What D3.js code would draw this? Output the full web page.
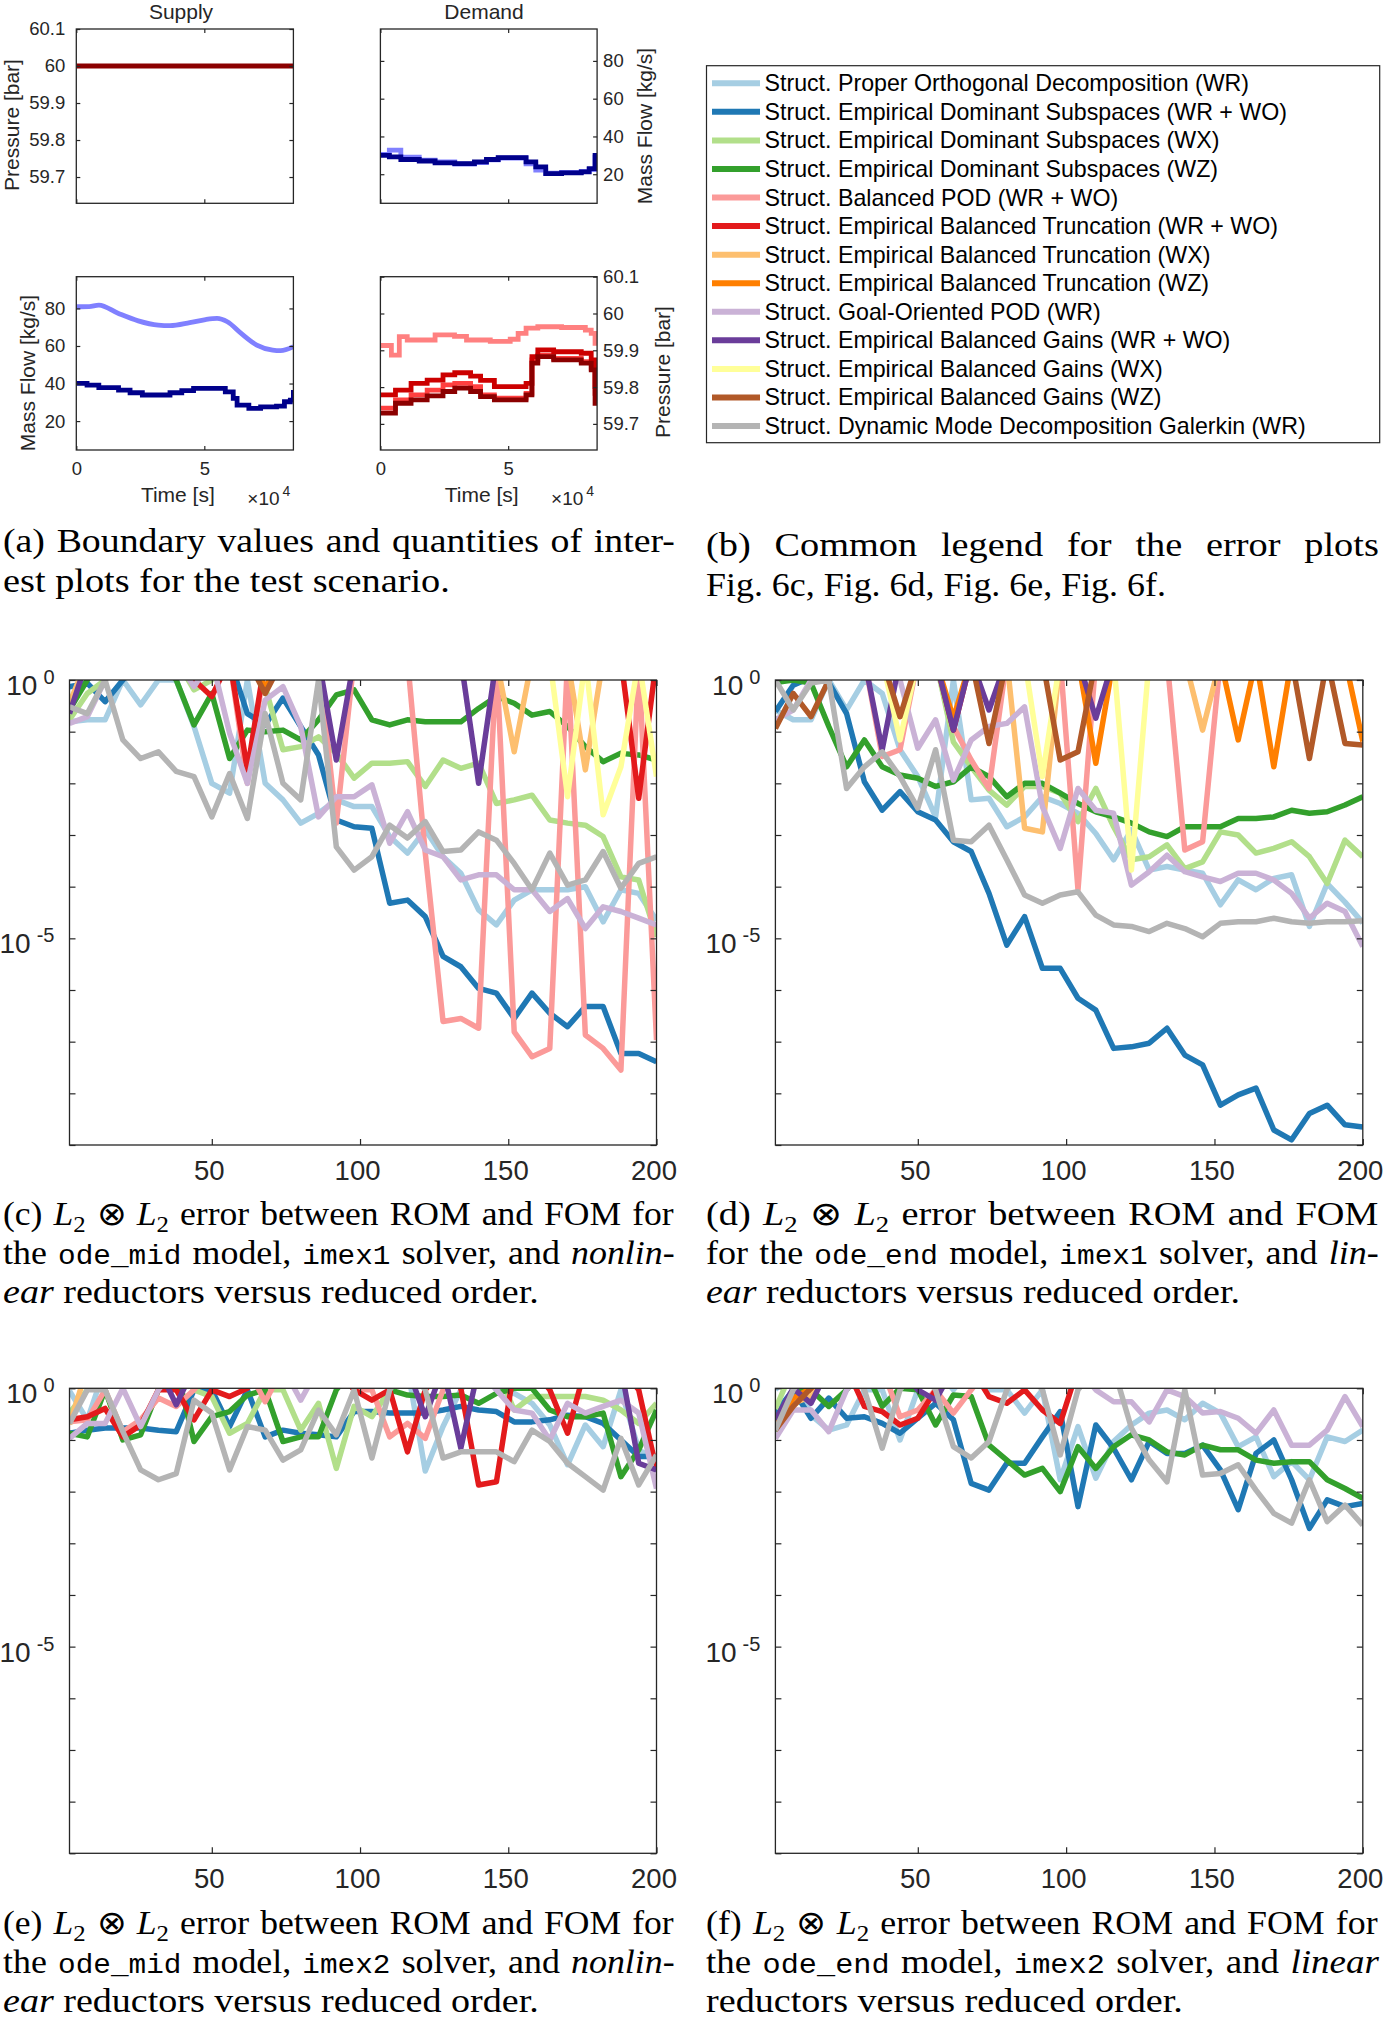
<!DOCTYPE html>
<html>
<head>
<meta charset="utf-8">
<script src="https://cdn.jsdelivr.net/npm/d3@7"></script>
<style>
  body { margin: 0; background: #fff; }
  svg { display: block; }
</style>
</head>
<body>
<script>
// ---------- data : top panels (time in units of 1e4 s) ----------
var tEnd = 8.48;
var timeTicks = [0, 5];
var pressTicks = [59.7, 59.8, 59.9, 60, 60.1];
var flowTicks = [20, 40, 60, 80];

var supPressT = [0, 8.48];
var supPress = [60, 60];

var supFlowAT = [0, 0.5, 0.88, 1.65, 2.42, 3.2, 3.66, 4.43, 5.05, 5.5, 5.9, 6.44, 7.05, 7.67, 7.98, 8.48];
var supFlowA = [80.9, 81.0, 81.8, 77.3, 73.4, 71.1, 70.8, 72.4, 74.1, 74.7, 72.9, 66.7, 60.5, 57.8, 57.5, 59.6];
var supFlowBT = [0, 0.42, 0.88, 1.65, 2.1, 2.58, 3.2, 3.66, 4.12, 4.58, 5.43, 5.82, 6.13, 6.28, 6.74, 7.2, 7.82, 8.13, 8.36, 8.48];
var supFlowB = [40.1, 39.2, 37.8, 36.5, 35.1, 33.9, 33.9, 35.1, 36.2, 37.4, 37.4, 35.6, 32.1, 28.5, 26.8, 27.6, 28.0, 30.3, 31.2, 36.5];

var demFlowT = [0, 0.35, 0.8, 1.52, 2.14, 2.91, 3.68, 4.15, 4.61, 5.39, 5.7, 6.08, 6.47, 7.09, 7.86, 8.17, 8.4, 8.48];
var demFlowA = [30.5, 32.8, 29.0, 27.5, 26.5, 25.4, 26.2, 27.6, 28.6, 28.6, 25.5, 22.2, 20.5, 20.9, 21.5, 22.5, 29.0, 29.0];
var demFlowB = [30.0, 29.2, 27.8, 27.0, 26.0, 25.6, 26.5, 27.8, 28.8, 28.8, 26.5, 23.9, 20.3, 20.7, 21.2, 23.0, 30.0, 30.0];

var demPressAT = [0, 0.43, 0.74, 1.05, 2.14, 2.9, 3.37, 4.3, 5.08, 5.39, 5.7, 6.16, 7.09, 8.02, 8.25, 8.4, 8.48];
var demPressA = [59.913, 59.887, 59.937, 59.928, 59.942, 59.938, 59.928, 59.924, 59.930, 59.946, 59.960, 59.964, 59.962, 59.955, 59.946, 59.919, 59.919];
var demPressT = [0, 0.59, 1.2, 1.83, 2.45, 2.91, 3.53, 3.92, 4.46, 5.39, 5.7, 5.93, 6.16, 6.78, 7.86, 8.25, 8.4, 8.48];
var demPressB = [59.779, 59.792, 59.810, 59.819, 59.833, 59.839, 59.830, 59.818, 59.801, 59.801, 59.810, 59.883, 59.901, 59.896, 59.892, 59.874, 59.801, 59.801];
var demPressC = [59.743, 59.765, 59.779, 59.792, 59.806, 59.810, 59.801, 59.779, 59.770, 59.770, 59.783, 59.874, 59.887, 59.878, 59.869, 59.851, 59.783, 59.783];
var demPressD = [59.729, 59.756, 59.765, 59.776, 59.788, 59.797, 59.788, 59.774, 59.765, 59.765, 59.779, 59.865, 59.883, 59.874, 59.865, 59.847, 59.756, 59.756];

// ---------- data : error plots ----------
var methods = [
  "Struct. Proper Orthogonal Decomposition (WR)",
  "Struct. Empirical Dominant Subspaces (WR + WO)",
  "Struct. Empirical Dominant Subspaces (WX)",
  "Struct. Empirical Dominant Subspaces (WZ)",
  "Struct. Balanced POD (WR + WO)",
  "Struct. Empirical Balanced Truncation (WR + WO)",
  "Struct. Empirical Balanced Truncation (WX)",
  "Struct. Empirical Balanced Truncation (WZ)",
  "Struct. Goal-Oriented POD (WR)",
  "Struct. Empirical Balanced Gains (WR + WO)",
  "Struct. Empirical Balanced Gains (WX)",
  "Struct. Empirical Balanced Gains (WZ)",
  "Struct. Dynamic Mode Decomposition Galerkin (WR)"
];
var palette = ["#a6cee3", "#1f78b4", "#b2df8a", "#33a02c", "#fb9a99", "#e31a1c", "#fdbf6f",
               "#ff7f00", "#cab2d6", "#6a3d9a", "#ffff99", "#b15928", "#b4b4b4"];

var orders = [2, 8, 14, 20, 26, 32, 38, 44, 50, 56, 62, 68, 74, 80, 86, 92, 98, 104, 110, 116,
              122, 128, 134, 140, 146, 152, 158, 164, 170, 176, 182, 188, 194, 200];
var errTicks = [1e-9, 1e-8, 1e-7, 1e-6, 1e-5, 1e-4, 1e-3, 1e-2, 1e-1, 1];
var errLabels = [1, 1e-5];
var orderTicks = [50, 100, 150, 200];

// values are log10 of the error; X marks an error above 10^0 (off the axes)
var X = 0.4;

// (c) ode_mid, imex1, nonlinear
var errC = [
  [-0.81, -0.77, -0.77, 0, -0.48, 0, 0, -0.90, -2.0, -2.19, 0, -2.0, -2.32, -2.77, -2.58, -2.32, -2.45, -2.45, -3.03, -3.35, -2.90, -3.42, -3.74, -4.45, -4.74, -4.26, -4.06, -4.06, -4.06, -4.0, -4.68, -4.06, -4.13, -4.65],
  [-0.13, -0.06, -0.42, 0, X, X, X, X, X, X, -0.65, -0.87, -0.35, -0.90, -1.45, -2.71, -2.84, -2.87, -4.32, -4.26, -4.58, -5.35, -5.55, -5.97, -6.06, -6.55, -6.06, -6.45, -6.71, -6.32, -6.32, -7.23, -7.23, -7.39],
  [-0.77, -0.26, 0, X, X, X, X, -0.19, 0, X, X, -0.13, -1.35, -1.29, -1.10, -1.42, -1.90, -1.61, -1.61, -1.58, -2.06, -1.55, -1.71, -1.61, -2.39, -2.32, -2.23, -2.71, -2.77, -2.81, -3.03, -3.81, -3.87, -4.97],
  [-0.58, 0, X, X, X, X, 0, -0.87, -0.26, -1.52, -0.97, -1.0, -0.97, -1.16, -0.77, -0.29, -0.19, -0.77, -0.87, -0.77, -0.81, -0.81, -0.81, -0.55, -0.32, -0.45, -0.68, -0.61, -0.90, -1.29, -1.58, -1.42, -1.45, -1.55],
  [X, X, X, X, X, X, X, X, X, X, -2.0, X, X, X, X, -2.77, X, X, X, X, -3.35, -6.61, -6.55, -6.74, X, -6.81, -7.29, -7.13, X, -6.87, -7.13, -7.55, X, -6.97],
  [X, X, X, X, X, X, X, 0, -0.32, X, -1.74, X, X, X, X, X, X, X, X, X, X, X, X, X, X, X, X, X, X, X, X, X, -2.29, X],
  [-0.45, X, X, X, X, X, X, X, X, X, X, X, X, X, X, X, X, X, X, X, X, X, X, X, X, -1.39, X, X, X, -1.74, X, X, X, X],
  [X, X, X, X, X, X, X, X, X, X, X, -0.13, X, X, X, X, X, X, X, X, X, X, X, X, X, X, X, X, X, X, X, X, X, X],
  [-0.84, -0.71, 0, X, X, X, X, -0.13, X, -1.03, -2.0, -0.39, -0.13, -0.90, -2.65, -2.26, -2.26, -2.03, -3.16, -2.55, -3.29, -3.42, -3.87, -3.77, -3.77, -4.06, -4.06, -4.48, -4.23, -4.81, -4.39, -4.48, -4.61, -4.74],
  [-0.65, X, X, X, X, X, X, X, X, X, X, X, X, X, X, -1.55, X, X, X, X, X, X, X, -2.0, X, X, X, X, X, X, X, X, X, X],
  [X, X, X, X, X, X, X, X, X, X, X, X, X, X, X, X, X, X, X, X, X, X, X, X, X, X, X, X, -2.26, X, -2.61, -1.68, X, -1.87],
  [X, X, X, X, X, X, X, X, X, X, X, -0.26, X, X, X, X, X, X, X, X, X, X, X, X, X, X, X, X, X, X, X, X, X, X],
  [-0.52, -0.65, 0, -1.16, -1.52, -1.39, -1.77, -1.87, -2.65, -1.81, -2.68, -0.65, -2.0, -2.32, 0, -3.23, -3.68, -3.42, -2.81, -3.06, -2.74, -3.32, -3.29, -2.94, -3.10, -3.55, -4.06, -3.35, -3.97, -3.87, -3.32, -4.03, -3.55, -3.42]
];

// (d) ode_end, imex1, linear
var errD = [
  [-0.58, -0.77, -0.77, 0, -0.58, 0, -0.26, -1.35, -1.87, -2.65, 0, -2.32, -2.29, -2.84, -2.65, -2.26, -2.39, -2.58, -2.97, -3.48, -2.90, -3.68, -3.61, -3.68, -3.74, -4.35, -3.87, -4.06, -3.84, -3.77, -4.77, -3.94, -4.3, -4.7],
  [-0.61, -0.1, 0.05, -0.05, -0.65, -1.97, -2.52, -2.16, -2.55, -2.71, -3.13, -3.32, -4.13, -5.13, -4.58, -5.58, -5.58, -6.16, -6.39, -7.13, -7.10, -7.03, -6.74, -7.26, -7.45, -8.23, -8.03, -7.90, -8.71, -8.90, -8.39, -8.23, -8.61, -8.65],
  [-0.1, X, 0, X, X, X, X, X, X, X, -1.2, -1.68, -2.13, -2.42, -2.06, -2.06, -2.19, -2.74, -2.10, -2.84, -3.48, -3.42, -3.19, -3.65, -3.52, -2.94, -3.0, -3.35, -3.26, -3.13, -3.42, -3.94, -3.10, -3.42],
  [-0.05, 0, -0.06, -0.9, -1.68, -1.16, -1.68, -1.84, -1.90, -2.06, -1.97, -1.68, -1.87, -2.26, -2.0, -2.0, -2.19, -2.39, -2.55, -2.65, -2.77, -2.94, -3.03, -2.84, -2.84, -2.84, -2.68, -2.68, -2.65, -2.52, -2.58, -2.55, -2.42, -2.26],
  [X, X, X, X, X, X, -1.48, -1.35, X, X, -0.90, -1.55, -2.10, X, X, X, X, -4.06, X, X, X, X, X, -3.29, -3.13, X, X, X, X, X, X, X, X, X],
  [X, X, X, X, X, X, X, X, X, X, -0.97, X, X, X, X, X, X, X, X, X, X, X, X, X, X, X, X, X, X, X, X, X, X, X],
  [X, X, X, X, X, X, X, X, X, X, X, X, X, X, -2.87, -2.94, X, X, X, X, X, X, X, X, -0.97, X, X, X, X, X, X, X, X, X],
  [X, X, X, X, X, X, X, X, X, X, -0.74, X, X, X, X, X, X, X, -1.61, X, X, X, X, X, X, X, -1.16, X, -1.68, X, X, X, X, -1.19],
  [-0.77, -0.58, 0, X, X, X, X, 0, -1.32, -0.77, -1.94, -1.16, -0.90, -0.84, -0.52, -2.45, -3.26, -2.10, -2.52, -2.58, -3.97, -3.71, -3.39, -3.71, -3.81, -3.90, -3.74, -3.74, -3.87, -4.13, -4.61, -4.32, -4.48, -5.16],
  [X, X, X, X, X, X, -1.35, X, X, X, -0.97, X, -0.58, X, X, X, X, X, -0.74, X, X, X, X, X, X, X, X, X, X, X, X, X, X, X],
  [X, X, X, X, X, X, X, -1.16, X, X, X, X, X, X, X, -1.87, X, X, X, X, -3.68, X, X, X, X, X, X, X, X, X, X, X, X, X],
  [-0.94, -0.26, -0.71, 0, X, X, X, -0.71, X, X, X, X, -1.23, X, X, X, -1.55, -1.39, X, X, X, X, X, X, X, X, X, X, X, X, -1.52, X, -1.23, -1.26],
  [0, -0.58, -0.06, 0, -2.10, -1.68, -1.39, -1.87, -2.48, -1.35, -3.10, -3.13, -2.81, -3.48, -4.16, -4.32, -4.16, -4.10, -4.55, -4.74, -4.77, -4.87, -4.71, -4.81, -4.97, -4.71, -4.68, -4.68, -4.61, -4.68, -4.71, -4.68, -4.68, -4.66]
];

// (e) ode_mid, imex2, nonlinear (null: not on the axes at all)
var errE = [
  [-0.05, -0.61, X, X, X, X, X, X, -0.05, X, X, X, X, X, X, X, X, X, X, X, -1.6, -0.74, -0.03, X, -0.03, -0.10, -0.29, -0.71, -1.48, -0.71, -1.13, -0.03, -1.19, -1.39],
  [-0.87, -0.81, -0.77, -0.77, -0.77, -0.81, -0.84, -0.03, -0.03, -0.74, -0.03, -0.94, -0.81, -0.87, -0.90, -0.94, -0.45, -0.45, -0.48, -0.48, -0.48, -0.42, -0.35, -0.42, -0.45, -0.65, -0.65, -0.61, -0.52, -0.55, -0.68, -1.0, -1.32, -1.32],
  [-0.48, -0.03, X, X, X, X, X, -0.03, -0.16, -0.87, -0.68, -0.03, -0.03, -0.81, -0.29, -1.55, -0.35, -0.55, -0.03, X, X, X, X, X, X, -0.42, -0.16, -0.16, -0.16, -0.16, -0.23, -0.42, -0.68, -0.29],
  [-0.87, -0.94, -0.03, -1.0, -0.90, -0.03, X, -1.03, -0.55, -0.45, -0.13, -0.03, -1.03, -0.94, -0.94, -0.03, X, X, -0.03, -0.13, -0.16, -0.16, -0.13, -0.29, -0.10, 0, 0, -0.42, -0.55, -0.55, -0.48, -1.71, -1.19, -0.42],
  [-0.65, -0.61, -0.03, -0.84, -0.61, -0.19, -0.35, -0.03, X, X, X, -0.26, X, X, X, X, -0.03, -0.03, -0.94, -0.68, -0.97, -0.03, X, X, X, X, X, X, X, X, X, X, X, X],
  [-0.61, -0.55, -0.39, -0.94, -0.71, -0.03, -0.03, -0.61, -0.03, -0.16, 0, X, X, X, X, X, -0.03, -0.23, -0.03, -1.23, -0.03, X, 0, -1.87, -1.81, X, X, -0.03, -0.87, X, X, X, -0.03, -1.58],
  [-0.7, X, X, X, X, X, X, X, X, X, X, X, X, X, X, X, X, X, X, X, X, X, X, X, X, X, X, X, X, X, X, X, X, X],
  null,
  [-0.97, -0.68, -0.68, 0, -0.74, -0.03, X, X, X, X, X, X, X, -0.23, X, X, X, X, X, X, X, X, X, X, -0.03, -0.42, -0.48, -1.0, -0.29, -0.48, -0.35, -0.23, -0.48, -1.94],
  [X, X, X, X, X, X, -0.32, X, X, X, X, X, X, X, X, X, X, X, X, X, -0.55, X, -1.16, X, X, X, X, X, X, X, X, X, -1.45, -1.58],
  null,
  null,
  [-0.68, -0.03, -0.03, -0.84, -1.58, -1.77, -1.65, -0.23, -0.48, -1.58, -0.74, -0.81, -1.39, -1.19, -0.42, -0.90, -0.03, -1.35, -0.03, X, -0.03, -1.35, -1.23, -1.23, -1.23, -1.42, -0.81, -1.03, -1.45, -1.71, -1.97, -0.97, -1.87, -1.29]
];

// (f) ode_end, imex2, linear
var errF = [
  [-0.03, X, -0.52, -0.81, -0.71, -0.03, -0.03, -1.0, -0.03, X, -0.03, X, -0.03, -0.03, -0.48, -0.03, -1.77, -0.74, -1.74, -1.03, -0.71, -0.48, -0.42, -0.61, -0.29, -0.48, -1.13, -0.94, -1.71, -1.42, -1.77, -0.94, -1.03, -0.81],
  [-0.48, -0.03, -0.58, -0.19, -0.58, -0.55, -0.68, -0.87, -0.58, -0.29, -0.61, -1.84, -1.97, -1.45, -1.45, -0.94, -0.45, -2.29, -0.71, -1.16, -1.77, -1.03, -1.26, -1.26, -1.10, -1.58, -2.35, -1.26, -1.0, -1.77, -2.71, -2.16, -2.29, -2.23],
  [-0.4, X, X, X, X, X, X, X, X, X, X, X, X, X, X, X, X, X, X, X, X, X, X, X, X, X, X, X, X, X, X, X, X, X],
  [-0.84, -0.03, -0.03, -0.35, -0.03, X, -0.35, 0, -0.03, -0.71, -0.13, -0.16, -1.10, -1.39, -1.68, -1.55, -2.0, -1.13, -1.55, -1.13, -0.90, -1.0, -1.23, -1.29, -1.10, -1.19, -1.19, -1.39, -1.45, -1.42, -1.42, -1.77, -1.94, -2.13],
  [X, X, X, X, X, X, X, -0.55, -0.42, -0.03, -0.48, -0.03, X, X, X, X, X, X, X, X, X, X, X, X, X, X, X, X, X, X, X, X, X, X],
  [X, X, X, X, X, -0.35, -0.45, -0.71, -0.58, -0.03, X, X, -0.16, -0.29, -0.03, -0.42, -0.68, X, X, X, X, X, X, X, X, X, X, X, X, X, X, X, X, X],
  [-0.75, -0.29, -0.16, X, X, X, X, X, X, X, X, X, X, X, X, X, X, X, X, X, X, X, X, X, X, X, X, X, X, X, X, X, X, X],
  [-0.7, -0.19, 0, X, X, X, X, X, X, X, X, X, X, X, X, X, X, X, X, X, X, X, X, X, X, X, X, X, X, X, X, X, X, X],
  [-0.97, -0.42, -0.42, -0.84, -0.03, X, X, X, X, X, X, X, X, X, X, X, X, X, -0.03, -0.26, -0.26, -0.65, -0.03, -0.16, -0.48, -0.45, -0.58, -0.87, -0.42, -1.10, -1.10, -0.81, -0.16, -0.74],
  [-0.61, 0, -0.29, X, X, X, X, X, -0.03, -0.23, X, X, X, X, X, X, X, X, X, X, X, X, X, X, X, X, X, X, X, X, X, X, X, X],
  null,
  [-0.81, -0.35, 0, X, X, X, X, X, X, X, X, X, X, X, X, X, X, X, X, X, X, X, X, X, X, X, X, X, X, X, X, X, X, X],
  [-0.81, -0.03, X, X, X, -0.03, -1.16, -0.03, X, -0.03, -1.13, -1.35, -1.03, -0.03, X, -0.03, -1.29, -0.03, X, X, -0.77, -1.39, -1.81, -0.03, -1.68, -1.65, -1.48, -1.97, -2.42, -2.61, -1.77, -2.58, -2.26, -2.65]
];

// ---------- drawing ----------
var axisColor = "#262626";
var sans = "'Liberation Sans', Arial, Helvetica, sans-serif";
var serif = "'Liberation Serif', 'Times New Roman', serif";
var mono = "'Liberation Mono', 'DejaVu Sans Mono', monospace";

var svg = d3.select("body").append("svg")
  .attr("width", 1384)
  .attr("height", 2021)
  .attr("font-family", sans);

var clipCount = 0;
function addClip(b) {
  var id = "clip" + (clipCount++);
  svg.append("clipPath").attr("id", id).append("rect")
    .attr("x", b.x0).attr("y", b.y0)
    .attr("width", b.x1 - b.x0).attr("height", b.y1 - b.y0);
  return "url(#" + id + ")";
}

function frame(b) {
  svg.append("rect")
    .attr("x", b.x0).attr("y", b.y0)
    .attr("width", b.x1 - b.x0).attr("height", b.y1 - b.y0)
    .attr("fill", "none")
    .attr("stroke", axisColor)
    .attr("stroke-width", 1.3);
}

function tidy(g, size) {
  g.select(".domain").remove();
  g.attr("font-size", size).attr("font-family", null);
  g.selectAll("line").attr("stroke", axisColor).attr("stroke-width", 1.2);
  g.selectAll("text").attr("fill", axisColor);
}

// one of the four small time panels
function timePanel(b, yDomain, yTicks, side, xLabels, series) {
  var x = d3.scaleLinear().domain([0, tEnd]).range([b.x0, b.x1]);
  var y = d3.scaleLinear().domain(yDomain).range([b.y1, b.y0]);
  var clip = addClip(b);

  series.forEach(function(s) {
    var line = d3.line()
      .curve(s.curve)
      .x(function(d, i) { return x(s.t[i]); })
      .y(function(d) { return y(d); });
    svg.append("path")
      .datum(s.v)
      .attr("d", line)
      .attr("fill", "none")
      .attr("stroke", s.color)
      .attr("stroke-width", 4.8)
      .attr("clip-path", clip);
  });

  frame(b);

  var fmt = d3.format(".3~g");
  var left = side === "left";
  svg.append("g")
    .attr("transform", "translate(" + (left ? b.x0 : b.x1) + ",0)")
    .call((left ? d3.axisLeft(y) : d3.axisRight(y))
      .tickValues(yTicks).tickSizeInner(-4).tickSizeOuter(0)
      .tickPadding(left ? 11 : 6).tickFormat(fmt))
    .call(tidy, 18.5);
  svg.append("g")
    .attr("transform", "translate(" + (left ? b.x1 : b.x0) + ",0)")
    .call((left ? d3.axisRight(y) : d3.axisLeft(y))
      .tickValues(yTicks).tickSizeInner(-4).tickSizeOuter(0).tickFormat(""))
    .call(tidy, 18.5);
  svg.append("g")
    .attr("transform", "translate(0," + b.y1 + ")")
    .call(d3.axisBottom(x).tickValues(timeTicks).tickSizeInner(-4).tickSizeOuter(0)
      .tickPadding(12).tickFormat(xLabels ? d3.format("d") : ""))
    .call(tidy, 18.5);
  svg.append("g")
    .attr("transform", "translate(0," + b.y0 + ")")
    .call(d3.axisTop(x).tickValues(timeTicks).tickSizeInner(-4).tickSizeOuter(0).tickFormat(""))
    .call(tidy, 18.5);

  if (xLabels) {
    svg.append("text")
      .attr("x", (b.x0 + b.x1) / 2 - 7)
      .attr("y", 502)
      .attr("text-anchor", "middle")
      .attr("font-size", 21)
      .attr("fill", axisColor)
      .text("Time [s]");
    var m = svg.append("text")
      .attr("x", b.x1 - 3)
      .attr("y", 505)
      .attr("text-anchor", "end")
      .attr("font-size", 19)
      .attr("fill", axisColor);
    m.append("tspan").text("\u00d710");
    m.append("tspan").attr("dy", -9).attr("dx", 3).attr("font-size", 14).text("4");
  }
}

function vLabel(x, y, txt) {
  svg.append("text")
    .attr("transform", "translate(" + x + "," + y + ") rotate(-90)")
    .attr("text-anchor", "middle")
    .attr("font-size", 21)
    .attr("fill", axisColor)
    .text(txt);
}

// ---- (a) boundary values ----
var bSU = { x0: 76.3, x1: 293.4, y0: 29, y1: 203.3 };
var bDU = { x0: 380.4, x1: 597.1, y0: 29, y1: 203.3 };
var bSL = { x0: 76.3, x1: 293.4, y0: 276.7, y1: 450 };
var bDL = { x0: 380.4, x1: 597.1, y0: 276.7, y1: 450 };
var pressDomain = [59.629, 60.1];
var flowDomain = [4.6, 96.9];

timePanel(bSU, pressDomain, pressTicks, "left", false, [
  { t: supPressT, v: supPress, color: "#8b0000", curve: d3.curveLinear }
]);
timePanel(bDU, flowDomain, flowTicks, "right", false, [
  { t: demFlowT, v: demFlowA, color: "#8080ff", curve: d3.curveStepAfter },
  { t: demFlowT, v: demFlowB, color: "#00008b", curve: d3.curveStepAfter }
]);
timePanel(bSL, flowDomain, flowTicks, "left", true, [
  { t: supFlowAT, v: supFlowA, color: "#8080ff", curve: d3.curveMonotoneX },
  { t: supFlowBT, v: supFlowB, color: "#00008b", curve: d3.curveStepAfter }
]);
timePanel(bDL, pressDomain, pressTicks, "right", true, [
  { t: demPressAT, v: demPressA, color: "#ff8080", curve: d3.curveStepAfter },
  { t: demPressT, v: demPressC, color: "#ff4040", curve: d3.curveStepAfter },
  { t: demPressT, v: demPressB, color: "#cc0000", curve: d3.curveStepAfter },
  { t: demPressT, v: demPressD, color: "#8b0000", curve: d3.curveStepAfter }
]);

svg.append("text").attr("x", 181).attr("y", 19).attr("text-anchor", "middle")
  .attr("font-size", 21).attr("fill", axisColor).text("Supply");
svg.append("text").attr("x", 484).attr("y", 19).attr("text-anchor", "middle")
  .attr("font-size", 21).attr("fill", axisColor).text("Demand");
vLabel(19, 125, "Pressure [bar]");
vLabel(35, 373, "Mass Flow [kg/s]");
vLabel(652, 126, "Mass Flow [kg/s]");
vLabel(670, 372, "Pressure [bar]");

// ---- (b) legend ----
var lg = { x0: 706.5, x1: 1379.7, y0: 65.7, y1: 442.7 };
svg.append("rect")
  .attr("x", lg.x0).attr("y", lg.y0)
  .attr("width", lg.x1 - lg.x0).attr("height", lg.y1 - lg.y0)
  .attr("fill", "#fff").attr("stroke", axisColor).attr("stroke-width", 1.2);
var rowY = d3.scaleLinear().domain([0, methods.length - 1]).range([83.3, 426]);
methods.forEach(function(name, i) {
  svg.append("line")
    .attr("x1", 712).attr("x2", 760)
    .attr("y1", rowY(i)).attr("y2", rowY(i))
    .attr("stroke", palette[i]).attr("stroke-width", 6);
  svg.append("text")
    .attr("x", 764.5).attr("y", rowY(i) + 8)
    .attr("font-size", 23.2).attr("fill", "#000")
    .text(name);
});

// ---- (c)-(f) error plots ----
function errorPanel(b, series) {
  var x = d3.scaleLinear().domain([2, 200]).range([b.x0, b.x1]);
  var y = d3.scaleLog().domain([1e-9, 1]).range([b.y1, b.y0]);
  var clip = addClip(b);
  var line = d3.line()
    .x(function(d, i) { return x(orders[i]); })
    .y(function(d) { return y(Math.pow(10, d)); });

  series.forEach(function(s, k) {
    if (!s) return;
    svg.append("path")
      .datum(s)
      .attr("d", line)
      .attr("fill", "none")
      .attr("stroke", palette[k])
      .attr("stroke-width", 5.5)
      .attr("stroke-linejoin", "round")
      .attr("clip-path", clip);
  });

  frame(b);

  svg.append("g").attr("transform", "translate(" + b.x0 + ",0)")
    .call(d3.axisLeft(y).tickValues(errTicks).tickSizeInner(-6).tickSizeOuter(0).tickFormat(""))
    .call(tidy, 27.5);
  svg.append("g").attr("transform", "translate(" + b.x1 + ",0)")
    .call(d3.axisRight(y).tickValues(errTicks).tickSizeInner(-6).tickSizeOuter(0).tickFormat(""))
    .call(tidy, 27.5);
  svg.append("g").attr("transform", "translate(0," + b.y1 + ")")
    .call(d3.axisBottom(x).tickValues(orderTicks).tickSizeInner(-6).tickSizeOuter(0).tickPadding(15))
    .call(tidy, 27.5)
    .selectAll("text").attr("dx", -3);
  svg.append("g").attr("transform", "translate(0," + b.y0 + ")")
    .call(d3.axisTop(x).tickValues(orderTicks).tickSizeInner(-6).tickSizeOuter(0).tickFormat(""))
    .call(tidy, 27.5);

  errLabels.forEach(function(v) {
    var t = svg.append("text")
      .attr("x", b.x0 - 15)
      .attr("y", y(v) + 15)
      .attr("text-anchor", "end")
      .attr("font-size", 28)
      .attr("fill", axisColor);
    t.append("tspan").text("10");
    t.append("tspan").attr("dx", 6).attr("dy", -11).attr("font-size", 20)
      .text(String(Math.round(Math.log10(v))));
  });
}

errorPanel({ x0: 69.5, x1: 656.5, y0: 680, y1: 1145 }, errC);
errorPanel({ x0: 775.4, x1: 1362.8, y0: 680, y1: 1145 }, errD);
errorPanel({ x0: 69.5, x1: 656.5, y0: 1388.3, y1: 1853.3 }, errE);
errorPanel({ x0: 775.4, x1: 1362.8, y0: 1388.3, y1: 1853.3 }, errF);

// ---------- captions ----------
var capSize = 33;
function buildCaption(parts) {
  var t = svg.append("text")
    .attr("font-family", serif)
    .attr("font-size", capSize)
    .attr("fill", "#000")
    .style("white-space", "pre");
  var shifted = false;
  parts.forEach(function(p) {
    var s = t.append("tspan").text(p[1]);
    if (shifted && p[0] !== "s") { s.attr("dy", -7); shifted = false; }
    if (p[0] === "i") s.attr("font-style", "italic");
    if (p[0] === "m") s.attr("font-family", mono).attr("font-size", capSize - 6);
    if (p[0] === "s") { s.attr("font-size", capSize - 10).attr("dy", 7); shifted = true; }
  });
  return t;
}

// glyph squeeze taken from a ragged (last) line, so justified lines keep
// the same letter shapes and get their extra room from word spacing
var probe = buildCaption([["r", "est plots for the test scenario."]]);
var capK = 447 / probe.node().getComputedTextLength();
probe.remove();

function captionLine(x0, base, width, parts, justify) {
  var t = buildCaption(parts);
  var w = t.node().getComputedTextLength();
  var k = capK;
  if (justify) {
    var n = (t.text().match(/ /g) || []).length;
    var ws = (width / k - w) / n;
    if (ws < 2) {
      ws = 2;
      k = width / (w + n * ws);
    }
    t.attr("word-spacing", ws);
  } else {
    k = width / w;
  }
  t.attr("transform", "translate(" + x0 + "," + base + ") scale(" + k + ",1)");
}

function l2(tag) {
  return [["r", tag + " "], ["i", "L"], ["s", "2"], ["r", " \u2297 "], ["i", "L"], ["s", "2"]];
}

captionLine(3, 552, 672, [["r", "(a) Boundary values and quantities of inter-"]], true);
captionLine(3, 592, 447, [["r", "est plots for the test scenario."]], false);
captionLine(706, 556, 673, [["r", "(b) Common legend for the error plots"]], true);
captionLine(706, 596, 460, [["r", "Fig. 6c, Fig. 6d, Fig. 6e, Fig. 6f."]], false);

captionLine(3, 1225, 672, l2("(c)").concat([["r", " error between ROM and FOM for"]]), true);
captionLine(3, 1264, 672, [["r", "the "], ["m", "ode_mid"], ["r", " model, "], ["m", "imex1"], ["r", " solver, and "], ["i", "nonlin-"]], true);
captionLine(3, 1303, 536, [["i", "ear"], ["r", " reductors versus reduced order."]], false);

captionLine(706, 1225, 673, l2("(d)").concat([["r", " error between ROM and FOM"]]), true);
captionLine(706, 1264, 673, [["r", "for the "], ["m", "ode_end"], ["r", " model, "], ["m", "imex1"], ["r", " solver, and "], ["i", "lin-"]], true);
captionLine(706, 1303, 534, [["i", "ear"], ["r", " reductors versus reduced order."]], false);

captionLine(3, 1934, 672, l2("(e)").concat([["r", " error between ROM and FOM for"]]), true);
captionLine(3, 1973, 672, [["r", "the "], ["m", "ode_mid"], ["r", " model, "], ["m", "imex2"], ["r", " solver, and "], ["i", "nonlin-"]], true);
captionLine(3, 2012, 536, [["i", "ear"], ["r", " reductors versus reduced order."]], false);

captionLine(706, 1934, 673, l2("(f)").concat([["r", " error between ROM and FOM for"]]), true);
captionLine(706, 1973, 673, [["r", "the "], ["m", "ode_end"], ["r", " model, "], ["m", "imex2"], ["r", " solver, and "], ["i", "linear"]], true);
captionLine(706, 2012, 477, [["r", "reductors versus reduced order."]], false);
</script>
</body>
</html>
